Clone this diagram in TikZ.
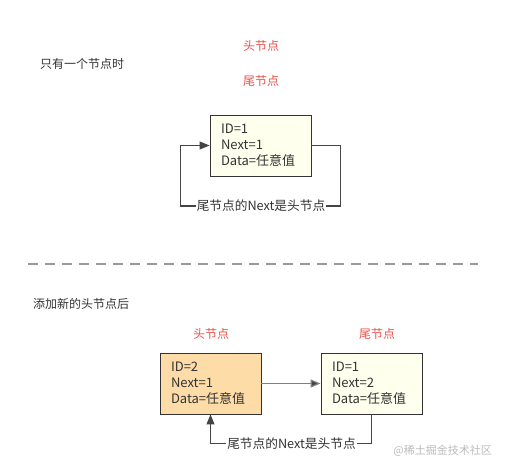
\documentclass[tikz,border=0pt]{standalone}
\usepackage{fontspec}
\setmainfont{Noto Sans CJK SC}
\usetikzlibrary{arrows.meta}
\definecolor{txt}{HTML}{333333}
\definecolor{redt}{HTML}{E5534B}
\definecolor{orangef}{HTML}{FDDCA8}
\definecolor{yellowf}{HTML}{FFFFEE}
\definecolor{lineg}{HTML}{444444}
\definecolor{dashg}{HTML}{999999}
\definecolor{wm}{HTML}{BBBBBB}
\begin{document}
\begin{tikzpicture}[x=1pt,y=-1pt,
  every node/.style={font=\fontsize{12pt}{16pt}\selectfont, text=txt, inner sep=0pt},
  redlabel/.style={text=redt},
  nodebox/.style={draw=txt, line width=0.9pt, rectangle, minimum width=101pt, minimum height=61pt,
    text width=79pt, align=left, inner xsep=11pt, font=\fontsize{13pt}{16pt}\selectfont},
  link/.style={draw=lineg, line width=1pt},
  tip/.style={-{Triangle[length=10pt,width=8pt]}},
  loopl/.style={fill=white, inner xsep=1pt, font=\fontsize{12.7pt}{15pt}\selectfont}]
\useasboundingbox (0,0) rectangle (505,470);
% top section
\node[anchor=west] (t1) at (40,64) {只有一个节点时};
\node[redlabel] (h1) at (261,46) {头节点};
\node[redlabel] (w1) at (261,81) {尾节点};
\node[nodebox, fill=yellowf] (b1) at (260.5,145.5) {ID=1\\Next=1\\Data=任意值};
\coordinate (r1) at (340,145.5);
\coordinate (r2) at (340,206);
\coordinate (l2) at (180,206);
\coordinate (l1) at (180,145.5);
\draw[link] (b1.east) -- (r1) -- (r2) -- (l2) -- (l1);
\draw[link, tip] (l1) -- (b1.west);
\node[loopl] (lab1) at (261,206) {尾节点的Next是头节点};
% divider
\coordinate (d1) at (28,264);
\coordinate (d2) at (478,264);
\draw[dashg, line width=1.6pt, dash pattern=on 10pt off 7pt] (d1) -- (d2);
% bottom section
\node[anchor=west] (t2) at (33,304) {添加新的头节点后};
\node[redlabel] (h2) at (211,334) {头节点};
\node[redlabel] (w2) at (377,334) {尾节点};
\node[nodebox, fill=orangef] (b2) at (210.5,383.5) {ID=2\\Next=1\\Data=任意值};
\node[nodebox, fill=yellowf] (b3) at (371.5,383.5) {ID=1\\Next=2\\Data=任意值};
\draw[draw=gray, line width=1.2pt, -{Triangle[length=10pt,width=8pt,fill=lineg]}] (b2.east) -- (b3.west);
\coordinate (q1) at (371.5,443.5);
\coordinate (q2) at (210.5,443.5);
\draw[link] (b3.south) -- (q1) -- (q2);
\draw[link, tip] (q2) -- (b2.south);
\node[loopl] (lab2) at (291.5,443.5) {尾节点的Next是头节点};
\node[anchor=east, text=wm, font=\fontsize{11pt}{13pt}\selectfont] (wmk) at (492,451) {@稀土掘金技术社区};
\end{tikzpicture}
\end{document}
